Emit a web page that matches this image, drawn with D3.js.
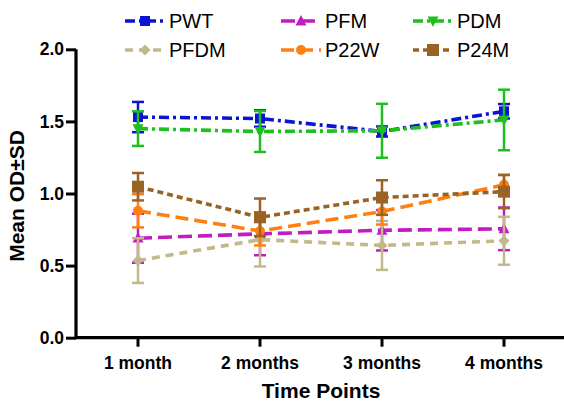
<!DOCTYPE html>
<html><head><meta charset="utf-8">
<script src="https://cdn.jsdelivr.net/npm/d3@7"></script>
<style>html,body{margin:0;padding:0;background:#fff;}svg{display:block;font-family:"Liberation Sans",Arial,sans-serif;}</style>
</head><body><svg id="c" width="564" height="404"></svg>
<script>
const categories = ["1 month", "2 months", "3 months", "4 months"];
const yTicks = [0, 0.5, 1.0, 1.5, 2.0];
const seriesNames = ["PWT", "PFM", "PDM", "PFDM", "P22W", "P24M"];
const PWT_mean  = [1.53, 1.52, 1.43, 1.57];
const PWT_sd    = [0.105, 0.057, 0.035, 0.05];
const PFM_mean  = [0.69, 0.72, 0.745, 0.755];
const PFM_sd    = [0.17, 0.148, 0.14, 0.148];
const PDM_mean  = [1.45, 1.43, 1.435, 1.51];
const PDM_sd    = [0.12, 0.142, 0.187, 0.21];
const PFDM_mean = [0.535, 0.68, 0.64, 0.672];
const PFDM_sd   = [0.155, 0.186, 0.17, 0.166];
const P22W_mean = [0.88, 0.74, 0.875, 1.06];
const P22W_sd   = [0.115, 0.1, 0.09, 0.07];
const P24M_mean = [1.047, 0.835, 0.972, 1.013];
const P24M_sd   = [0.095, 0.13, 0.12, 0.115];

const styles = {
  PWT:  {color:"#0a14d2", dash:"10,4,3,4", marker:"square", size:10},
  PFM:  {color:"#c21bc2", dash:"14,6", marker:"triangle", size:11},
  PDM:  {color:"#1fbf1f", dash:"10,4,3,4", marker:"triangleDown", size:11},
  PFDM: {color:"#c2b88a", dash:"8,6", marker:"diamond", size:11},
  P22W: {color:"#ff8010", dash:"13,6", marker:"circle", size:10},
  P24M: {color:"#9a6326", dash:"6,4", marker:"square", size:12}
};
const dataMap = {
  PWT:[PWT_mean,PWT_sd], PFM:[PFM_mean,PFM_sd], PDM:[PDM_mean,PDM_sd],
  PFDM:[PFDM_mean,PFDM_sd], P22W:[P22W_mean,P22W_sd], P24M:[P24M_mean,P24M_sd]
};

const svg = d3.select("#c");
const x = d3.scaleBand().domain(categories).range([77, 565]);
const cx = d => x(d) + x.bandwidth()/2;
const y = d3.scaleLinear().domain([0, 2]).range([337.7, 49.3]);

// axes
const yAxis = svg.append("g").attr("transform","translate(76,0)")
  .call(d3.axisLeft(y).tickValues(yTicks).tickFormat(d3.format(".1f")).tickSize(10).tickPadding(2));
const xAxis = svg.append("g").attr("transform","translate(0,337.7)")
  .call(d3.axisBottom(x).tickSize(9).tickPadding(4));
[yAxis, xAxis].forEach(g => {
  g.select(".domain").attr("stroke","#000").attr("stroke-width",3.2);
  g.selectAll(".tick line").attr("stroke","#000").attr("stroke-width",3);
  g.selectAll("text").attr("fill","#000").attr("font-weight","bold").attr("font-size","17.5px")
   .attr("font-family","'Liberation Sans',Arial,sans-serif");
});
yAxis.select(".domain").attr("d","M0,49.3V337.7");
xAxis.select(".domain").attr("d","M76,0H565");
xAxis.selectAll("text").attr("dy","1.05em");

svg.append("text").attr("x",321).attr("y",398).attr("text-anchor","middle")
  .attr("font-weight","bold").attr("font-size","21px").text("Time Points");
svg.append("text").attr("transform","translate(24,196) rotate(-90)").attr("text-anchor","middle")
  .attr("font-weight","bold").attr("font-size","21px").text("Mean OD±SD");

function markerPath(type, s) {
  const h = s/2;
  if (type==="square") return `M${-h},${-h}H${h}V${h}H${-h}Z`;
  if (type==="triangle") return `M0,${-h*1.1}L${h},${h*0.8}L${-h},${h*0.8}Z`;
  if (type==="triangleDown") return `M0,${h*1.1}L${h},${-h*0.8}L${-h},${-h*0.8}Z`;
  if (type==="diamond") return `M0,${-h}L${h},0L0,${h}L${-h},0Z`;
  if (type==="circle") return d3.symbol(d3.symbolCircle, Math.PI*h*h)();
}

const plot = svg.append("g");
seriesNames.forEach(name => {
  const st = styles[name];
  const [m, sd] = dataMap[name];
  const pts = categories.map((c,i) => ({c, m:m[i], sd:sd[i]}));
  const g = plot.append("g");
  // error bars
  pts.forEach(p => {
    const X = cx(p.c), y1 = y(p.m+p.sd), y2 = y(p.m-p.sd);
    g.append("line").attr("x1",X).attr("x2",X).attr("y1",y1).attr("y2",y2)
      .attr("stroke",st.color).attr("stroke-width",2.5);
    [y1,y2].forEach(yy => g.append("line").attr("x1",X-6).attr("x2",X+6).attr("y1",yy).attr("y2",yy)
      .attr("stroke",st.color).attr("stroke-width",2.5));
  });
  g.append("path").datum(pts)
    .attr("d", d3.line().x(p=>cx(p.c)).y(p=>y(p.m)))
    .attr("fill","none").attr("stroke",st.color).attr("stroke-width",3.6)
    .attr("stroke-dasharray",st.dash);
  pts.forEach(p => {
    g.append("path").attr("d",markerPath(st.marker, st.size))
      .attr("transform",`translate(${cx(p.c)},${y(p.m)})`).attr("fill",st.color);
  });
});

// legend
const legCols = [125, 281, 413];
const legRows = [21, 50];
seriesNames.forEach((name,i) => {
  const st = styles[name];
  const lx = legCols[i%3], ly = legRows[Math.floor(i/3)];
  const g = svg.append("g").attr("transform",`translate(${lx},${ly})`);
  g.append("line").attr("x1",0).attr("x2",40).attr("y1",0).attr("y2",0)
    .attr("stroke",st.color).attr("stroke-width",3.6).attr("stroke-dasharray", st.dash);
  g.append("path").attr("d",markerPath(st.marker, st.size)).attr("transform","translate(20,0)").attr("fill",st.color);
  g.append("text").attr("x",44).attr("y",7).attr("font-size","20px").attr("fill","#000").text(name);
});
</script></body></html>
